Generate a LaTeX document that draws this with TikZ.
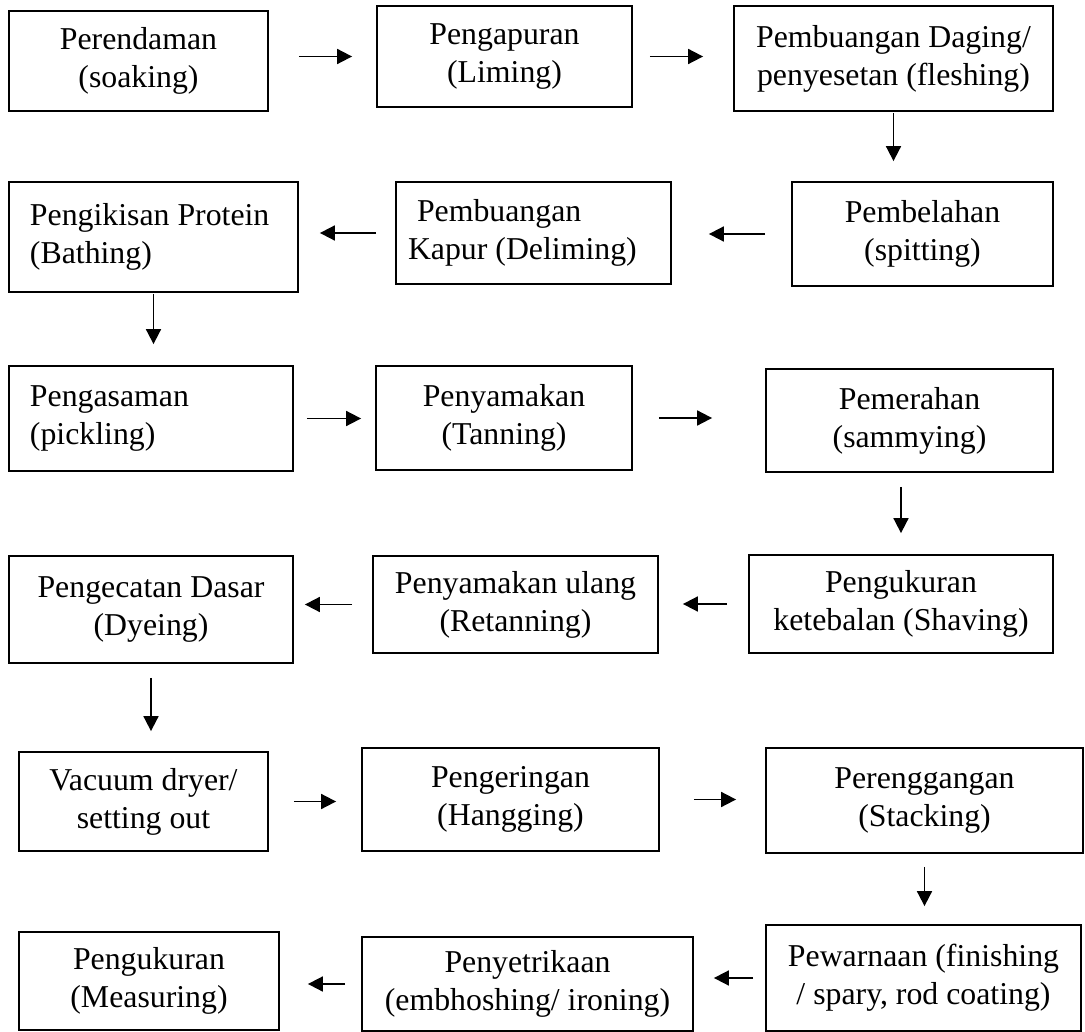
\documentclass[tikz,border=0pt]{standalone}
\usepackage{fontspec}
\setmainfont{Liberation Serif}
\usetikzlibrary{arrows.meta}
\tikzset{
>={Triangle[length=15pt, width=15pt]}, % solid triangle heads on every arrow
box/.style={draw, line width=1.8pt, align=center, inner sep=0pt, font=\fontsize{31.8}{38}\selectfont}, % one process step
leftbox/.style={box, align=flush left, inner xsep=21pt}, % step whose text sits at the left
flow/.style={->, line width=1.8pt}, % arrow from one step to the next (only the edges are drawn)
}

\begin{document}
\begin{tikzpicture}[x=1pt, y=-1pt]
    \useasboundingbox (0,0) rectangle (1085,1032);

    \node[box, minimum width=259pt, minimum height=100pt] (soak) at (138.5,61) {Perendaman\\(soaking)};
    \node[box, minimum width=255pt, minimum height=101pt] (lime) at (504.5,56.5) {Pengapuran\\(Liming)};
    \node[box, minimum width=319pt, minimum height=105pt] (flesh) at (893.5,58.5) {Pembuangan Daging/\\penyesetan (fleshing)};

    \node[box, minimum width=261pt, minimum height=104pt] (split) at (922.5,234) {Pembelahan\\(spitting)};
    \node[leftbox, inner xsep=12pt, text width=251pt, minimum width=275pt, minimum height=102pt] (delime) at (533.5,233) {\hspace*{9pt}Pembuangan\\Kapur (Deliming)};
    \node[leftbox, text width=247pt, minimum width=289pt, minimum height=110pt] (bath) at (153.5,237) {Pengikisan Protein\\(Bathing)};

    \node[leftbox, text width=242pt, minimum width=284pt, minimum height=105pt] (pickle) at (151,418.5) {Pengasaman\\(pickling)};
    \node[box, minimum width=256pt, minimum height=104pt] (tan) at (504,418) {Penyamakan\\(Tanning)};
    \node[box, minimum width=287pt, minimum height=103pt] (sammy) at (909.5,420.5) {Pemerahan\\(sammying)};

    \node[box, minimum width=304pt, minimum height=98pt] (shave) at (901,604) {Pengukuran\\ketebalan (Shaving)};
    \node[box, minimum width=285pt, minimum height=97pt] (retan) at (515.5,604.5) {Penyamakan ulang\\(Retanning)};
    \node[box, minimum width=284pt, minimum height=107pt] (dye) at (151,609.5) {Pengecatan Dasar\\(Dyeing)};

    \node[box, minimum width=249pt, minimum height=99pt] (vacuum) at (143.5,801.5) {Vacuum dryer/\\setting out};
    \node[box, minimum width=297pt, minimum height=103pt] (hang) at (510.5,799.5) {Pengeringan\\(Hangging)};
    \node[box, minimum width=317pt, minimum height=105pt] (stack) at (924.5,800.5) {Perenggangan\\(Stacking)};

    \node[box, minimum width=315pt, minimum height=106pt] (finish) at (923.5,978) {Pewarnaan (finishing\\/ spary, rod coating)};
    \node[box, minimum width=331pt, minimum height=94pt] (iron) at (527.5,984) {Penyetrikaan\\(embhoshing/ ironing)};
    \node[box, minimum width=260pt, minimum height=98pt] (measure) at (149,981) {Pengukuran\\(Measuring)};

    \path[flow]
    (soak.east |- lime.west) edge[shorten <=30pt, shorten >=24pt] (lime.west)
    (lime.east) edge[shorten <=17pt, shorten >=30pt] (lime.east -| flesh.west)
    (flesh.south) edge[shorten <=1pt, shorten >=20pt] (flesh.south |- split.north);

    \path[flow]
    (split.west) edge[shorten <=26pt, shorten >=37pt] (split.west -| delime.east)
    (delime.west) edge[shorten <=19pt, shorten >=21pt] (delime.west -| bath.east)
    (bath.south) edge[shorten <=1pt, shorten >=21pt] (bath.south |- pickle.north);

    \path[flow]
    (pickle.east) edge[shorten <=13pt, shorten >=14pt] (pickle.east -| tan.west)
    (tan.east) edge[shorten <=26pt, shorten >=53pt] (tan.east -| sammy.west)
    (sammy.south -| shave.north) edge[shorten <=14pt, shorten >=21pt] (shave.north);

    \path[flow]
    (shave.west) edge[shorten <=21pt, shorten >=24pt] (shave.west -| retan.east)
    (retan.west) edge[shorten <=20pt, shorten >=11pt] (retan.west -| dye.east)
    (dye.south) edge[shorten <=14pt, shorten >=20pt] (dye.south |- vacuum.north);

    \path[flow]
    (vacuum.east) edge[shorten <=25pt, shorten >=25pt] (vacuum.east -| hang.west)
    (hang.east) edge[shorten <=34pt, shorten >=29pt] (hang.east -| stack.west)
    (stack.south) edge[shorten <=13pt, shorten >=18pt] (stack.south |- finish.north);

    \path[flow]
    (finish.west) edge[shorten <=12pt, shorten >=20pt] (finish.west -| iron.east)
    (iron.west) edge[shorten <=16pt, shorten >=28pt] (iron.west -| measure.east);
\end{tikzpicture}
\end{document}
